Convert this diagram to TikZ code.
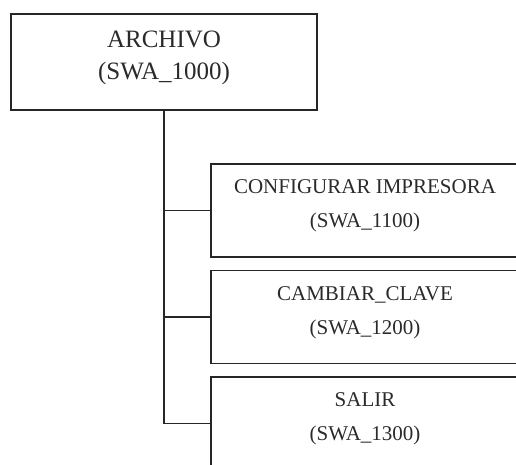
\documentclass[tikz,border=0pt]{standalone}
\usepackage{fontspec}
\setmainfont{Liberation Serif}
\usetikzlibrary{positioning}
\definecolor{LineGray}{HTML}{262626}
\definecolor{TextGray}{HTML}{2A2A2A}

\begin{document}
\begin{tikzpicture}[x=1pt,y=-1pt,node distance=13.5pt,
 modbox/.style={draw=LineGray,line width=1.5pt,minimum width=306pt,minimum height=96pt,inner sep=0pt,outer sep=0pt},
 subbox/.style={modbox,minimum width=308pt,minimum height=93pt},
 toptxt/.style={text=TextGray,align=center,inner sep=0pt,font=\fontsize{25}{32}\selectfont},
 subtxt/.style={text=TextGray,align=center,inner sep=0pt,font=\fontsize{21}{34}\selectfont},
 link/.style={draw=LineGray,line width=1.5pt}]
\useasboundingbox (0,0) rectangle (516,464);
\node[modbox] (arch) at (164,62) {};
\node[subbox] (conf) at (365,210.5) {};
\node[subbox,below=of conf] (clave) {};
\node[subbox,below=of clave] (salir) {};
\node[toptxt] (archtxt) at ([yshift=4.5pt]arch.center) {ARCHIVO\\(SWA\_1000)};
\node[subtxt] (conftxt) at ([yshift=4.3pt]conf.center) {CONFIGURAR IMPRESORA\\(SWA\_1100)};
\node[subtxt] (clavetxt) at ([yshift=4.3pt]clave.center) {CAMBIAR\_CLAVE\\(SWA\_1200)};
\node[subtxt] (salirtxt) at ([yshift=4.3pt]salir.center) {SALIR\\(SWA\_1300)};
\draw[link] (arch.south) |- (salir.west);
\draw[link] (arch.south |- conf.west) -- (conf.west);
\draw[link] (arch.south |- clave.west) -- (clave.west);
\end{tikzpicture}
\end{document}
